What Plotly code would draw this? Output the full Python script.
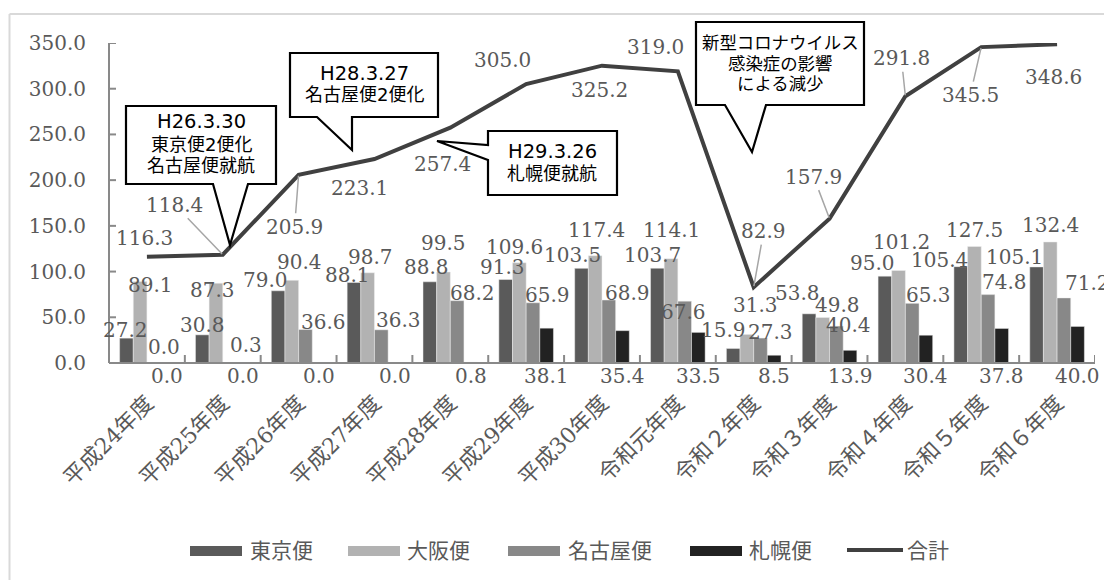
import plotly.graph_objects as go

# ---------------- data ----------------
categories = ["平成24年度", "平成25年度", "平成26年度", "平成27年度", "平成28年度",
              "平成29年度", "平成30年度", "令和元年度", "令和２年度", "令和３年度",
              "令和４年度", "令和５年度", "令和６年度"]
tokyo = [27.2, 30.8, 79.0, 88.1, 88.8, 91.3, 103.5, 103.7, 15.9, 53.8, 95.0, 105.4, 105.1]
osaka = [89.1, 87.3, 90.4, 98.7, 99.5, 109.6, 117.4, 114.1, 31.3, 49.8, 101.2, 127.5, 132.4]
nagoya = [0.0, 0.3, 36.6, 36.3, 68.2, 65.9, 68.9, 67.6, 27.3, 40.4, 65.3, 74.8, 71.2]
sapporo = [0.0, 0.0, 0.0, 0.0, 0.8, 38.1, 35.4, 33.5, 8.5, 13.9, 30.4, 37.8, 40.0]
total = [116.3, 118.4, 205.9, 223.1, 257.4, 305.0, 325.2, 319.0, 82.9, 157.9, 291.8, 345.5, 348.6]
series_names = ["東京便", "大阪便", "名古屋便", "札幌便"]
total_name = "合計"
y_ticks = [0, 50, 100, 150, 200, 250, 300, 350]

# ---------------- styling / label nudges (pixels: dx right, dy down) ----------------
colors = ["#5a5a5a", "#b2b2b2", "#888888", "#222222"]
line_color = "#404040"
label_color = "#595959"
axis_color = "#898989"
NUM_FONT = "DejaVu Serif, Noto Sans CJK JP"
CJK_FONT = "Noto Sans CJK JP"
CALLOUT_FONT = "DejaVu Sans, Noto Sans CJK JP"

tokyo_nudge = [(-0.5, -8), (0, -10), (-13, -11), (-6, -7), (-3, -15), (-3, -13), (-9, -13),
               (-5, -13), (-10, -18), (-12, -21), (-12, -13), (-21, -7), (-22, -10)]
osaka_nudge = [(10, 3), (-3, 7), (8, -18), (3, -16), (0, -29), (-5, -16), (1, -26),
               (0, -29), (9, -29), (15, -12), (3, -28), (0, -16), (0, -17)]
nagoya_nudge = [(10, -16), (16, -18), (18, -8), (17, -10), (15, -8), (15, -8), (19, -7),
                (-1, 11), (10, -6), (12, -1), (16, -8), (16, -13), (24, -15)]
total_nudge = [(-2, -19), (-48, -50), (-4, 52), (-15, 29), (-8, 36), (-24, -24), (-3, 24),
               (-22, -24), (10, -56), (-16, -42), (-4, -38), (-11, 48), (-4, 33)]
total_leader = [False, True, True, False, False, False, False, False, True, True, True, True, False]

# page has an 8px body margin at the top/left: figure placed at (8, 8)
OFF = 8
W, H = 1112 - OFF, 580 - OFF
# plot area in window pixels
PL, PR, PT, PB = 109, 1095, 43, 363
BARGAP = 0.28
N = len(categories)


def px(x):
    return (x - PL) / (PR - PL)


def py(y):
    return (PB - y) / (PB - PT)


fig = go.Figure()
all_series = [tokyo, osaka, nagoya, sapporo]
for name, vals, col in zip(series_names, all_series, colors):
    fig.add_trace(go.Bar(x=categories, y=vals, name=name, marker_color=col,
                         marker_line=dict(color="#eeeeee", width=0.5), showlegend=False,
                         cliponaxis=False))
fig.add_trace(go.Scatter(x=categories, y=total, name=total_name, mode="lines",
                         line=dict(color=line_color, width=4), showlegend=False,
                         cliponaxis=False))

# bar offsets within a group (pixels)
cat_w = (PR - PL) / N
bar_w = cat_w * (1 - BARGAP) / 4
offsets = [(-1.5 + i) * bar_w for i in range(4)]

annotations = []
lab_font = dict(family=NUM_FONT, size=20, color=label_color)
for s_idx, (vals, nudges) in enumerate(zip([tokyo, osaka, nagoya], [tokyo_nudge, osaka_nudge, nagoya_nudge])):
    for c, v, (dx, dy) in zip(categories, vals, nudges):
        annotations.append(dict(x=c, y=v, xref="x", yref="y", text=f"{v:.1f}", showarrow=False,
                                xshift=offsets[s_idx] + dx, yshift=-dy, font=lab_font))
for c, v in zip(categories, sapporo):
    annotations.append(dict(x=c, y=0, xref="x", yref="y", text=f"{v:.1f}", showarrow=False,
                            xshift=offsets[3], yshift=-13, font=lab_font))
for c, v, (dx, dy), lead in zip(categories, total, total_nudge, total_leader):
    if lead:
        annotations.append(dict(x=c, y=v, xref="x", yref="y", text=f"{v:.1f}", showarrow=True,
                                ax=dx, ay=dy, arrowhead=0, arrowwidth=1.5, arrowcolor="#a6a6a6",
                                standoff=1, font=lab_font))
    else:
        annotations.append(dict(x=c, y=v, xref="x", yref="y", text=f"{v:.1f}", showarrow=False,
                                xshift=dx, yshift=-dy, font=lab_font))

shapes = []

# ---------------- axis lines and ticks ----------------
axis_line = dict(color=axis_color, width=2)
shapes.append(dict(type="line", xref="paper", yref="paper", x0=0, x1=0, y0=0, y1=1, line=axis_line,
                   layer="above"))
shapes.append(dict(type="line", xref="paper", yref="paper", x0=0, x1=1, y0=0, y1=0, line=axis_line,
                   layer="above"))
for t in y_ticks:
    shapes.append(dict(type="line", xref="paper", yref="y", x0=0, x1=7 / (PR - PL), y0=t, y1=t,
                       line=axis_line, layer="above"))
for k in range(N + 1):
    shapes.append(dict(type="line", xref="x", yref="paper", x0=k - 0.5, x1=k - 0.5, y0=0,
                       y1=8 / (PB - PT), line=axis_line, layer="above"))


# ---------------- callouts ----------------
def path(points):
    return "M " + " L ".join(f"{px(x):.5f},{py(y):.5f}" for x, y in points) + " Z"


callouts = [
    ([(126, 106), (276, 106), (276, 184), (248, 184), (230, 245), (213, 184), (126, 184)],
     ["H26.3.30", "東京便2便化", "名古屋便就航"], 201, [122, 144, 165], 18),
    ([(290, 53), (438, 53), (438, 117), (352, 117), (352, 150), (317, 117), (290, 117)],
     ["H28.3.27", "名古屋便2便化"], 364, [73, 94], 18),
    ([(488, 131), (617, 131), (617, 195), (488, 195), (488, 160), (437, 141), (488, 145)],
     ["H29.3.26", "札幌便就航"], 552, [151, 173], 18),
    ([(696, 22), (864, 22), (864, 105), (766, 105), (752, 152), (725, 105), (696, 105)],
     ["新型コロナウイルス", "感染症の影響", "による減少"], 780, [43, 64, 84], 17.4),
]
for pts, lines, cx, ys, fs in callouts:
    shapes.append(dict(type="path", xref="paper", yref="paper", path=path(pts),
                       fillcolor="white", line=dict(color="black", width=2.2), layer="above"))
    for t, yy in zip(lines, ys):
        size = 19.5 if t.startswith("H") else fs
        annotations.append(dict(x=px(cx), y=py(yy), xref="paper", yref="paper", text=t,
                                showarrow=False, xanchor="center", yanchor="middle",
                                font=dict(family=CALLOUT_FONT, size=size, color="black")))

# ---------------- outer border ----------------
shapes.append(dict(type="line", xref="paper", yref="paper", x0=px(9.5), x1=px(9.5), y0=py(14), y1=py(600),
                   line=dict(color="#d9d9d9", width=2)))
shapes.append(dict(type="line", xref="paper", yref="paper", x0=px(9.5), x1=px(1130), y0=py(14), y1=py(14),
                   line=dict(color="#d9d9d9", width=2)))

# ---------------- legend (manual) ----------------
legend_items = [(190, 248), (348, 405), (508, 566), (690, 747)]
for (sx, tx), name, col in zip(legend_items, series_names, colors):
    shapes.append(dict(type="rect", xref="paper", yref="paper", x0=px(sx), x1=px(sx + 52),
                       y0=py(556), y1=py(546), fillcolor=col, line=dict(width=0)))
    annotations.append(dict(x=px(tx), y=py(549), xref="paper", yref="paper", text=name,
                            showarrow=False, xanchor="left", yanchor="middle",
                            font=dict(family=CJK_FONT, size=21, color=label_color)))
shapes.append(dict(type="line", xref="paper", yref="paper", x0=px(847), x1=px(903),
                   y0=py(550), y1=py(550), line=dict(color=line_color, width=4)))
annotations.append(dict(x=px(905), y=py(549), xref="paper", yref="paper", text=total_name,
                        showarrow=False, xanchor="left", yanchor="middle",
                        font=dict(family=CJK_FONT, size=21, color=label_color)))

fig.update_layout(
    width=W, height=H, autosize=False,
    margin=dict(l=PL - OFF, r=(W + OFF) - PR, t=PT - OFF, b=(H + OFF) - PB, pad=0, autoexpand=False),
    paper_bgcolor="white", plot_bgcolor="white",
    barmode="group", bargap=BARGAP, bargroupgap=0,
    showlegend=False,
    annotations=annotations, shapes=shapes,
    xaxis=dict(type="category", range=[-0.5, N - 0.5], autorange=False, automargin=False,
               showline=False, ticks="", tickangle=-45, ticklabelstandoff=22,
               tickfont=dict(family=NUM_FONT, size=22, color=label_color),
               showgrid=False, zeroline=False),
    yaxis=dict(range=[0, 350], autorange=False, tickvals=y_ticks, tickformat=".1f",
               automargin=False, showline=False, ticks="", ticklabelstandoff=22,
               tickfont=dict(family=NUM_FONT, size=20, color=label_color),
               showgrid=False, zeroline=False),
)

fig.write_html("out.html", config={"responsive": False})
